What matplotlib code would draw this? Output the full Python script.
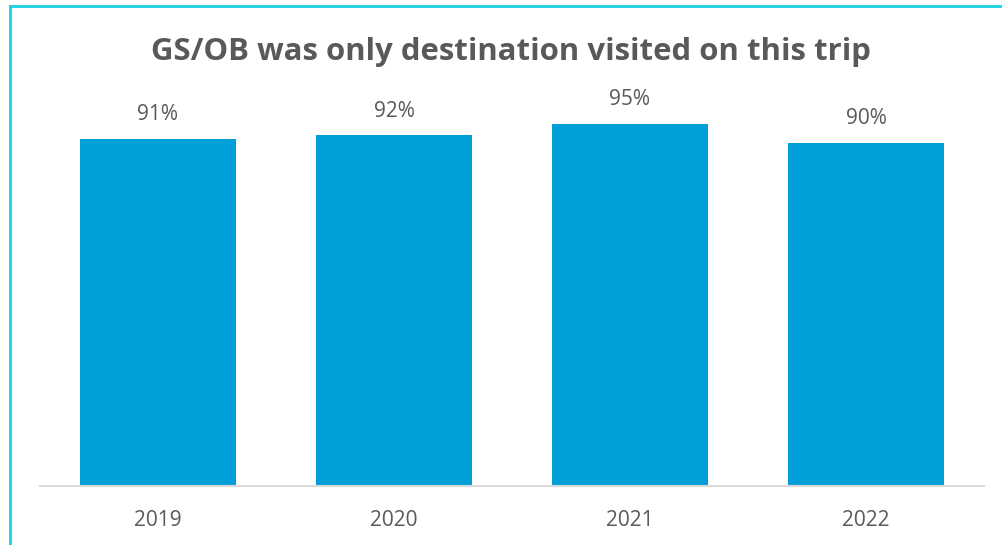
import matplotlib
matplotlib.use("Agg")
import matplotlib.pyplot as plt
from matplotlib.lines import Line2D

years = ["2019", "2020", "2021", "2022"]
values = [91, 92, 95, 90]
labels = ["91%", "92%", "95%", "90%"]
title = "GS/OB was only destination visited on this trip"

W, H = 1002, 545
fig = plt.figure(figsize=(W / 100, H / 100), dpi=100)
fig.patch.set_facecolor("white")

# border (cyan): top and left edges only visible
bc = "#19D3E3"
fig.add_artist(Line2D([10 / W, 1.05], [1 - 6 / H, 1 - 6 / H],
                      transform=fig.transFigure, color=bc, linewidth=2))
fig.add_artist(Line2D([10 / W, 10 / W], [-0.05, 1 - 6 / H],
                      transform=fig.transFigure, color=bc, linewidth=2))

ax = fig.add_axes([40 / W, 1 - 486 / H, 944 / W, 381 / H])
x = list(range(len(years)))
ax.bar(x, values, width=0.665, color="#009FD9")
ax.set_xlim(-0.5, 3.5)
ax.set_ylim(0, 100)
for s in ["top", "right", "left"]:
    ax.spines[s].set_visible(False)
ax.spines["bottom"].set_color("#D9D9D9")
ax.spines["bottom"].set_linewidth(1.5)
ax.set_yticks([])
ax.set_xticks(x)
ax.set_xticklabels(years, fontsize=15, color="#595959", family="Open Sans")
ax.tick_params(axis="x", length=0, pad=17)
for xi, v, lab in zip(x, values, labels):
    ax.annotate(lab, (xi, v), xytext=(0, 10), textcoords="offset points",
                ha="center", va="bottom", fontsize=15, color="#595959",
                family="Open Sans")

fig.text(511 / W, 1 - 52 / H, title, ha="center", va="center",
         fontsize=22.4, fontweight="bold", color="#595959", family="Open Sans")

fig.savefig("out.png", dpi=100, facecolor="white")
